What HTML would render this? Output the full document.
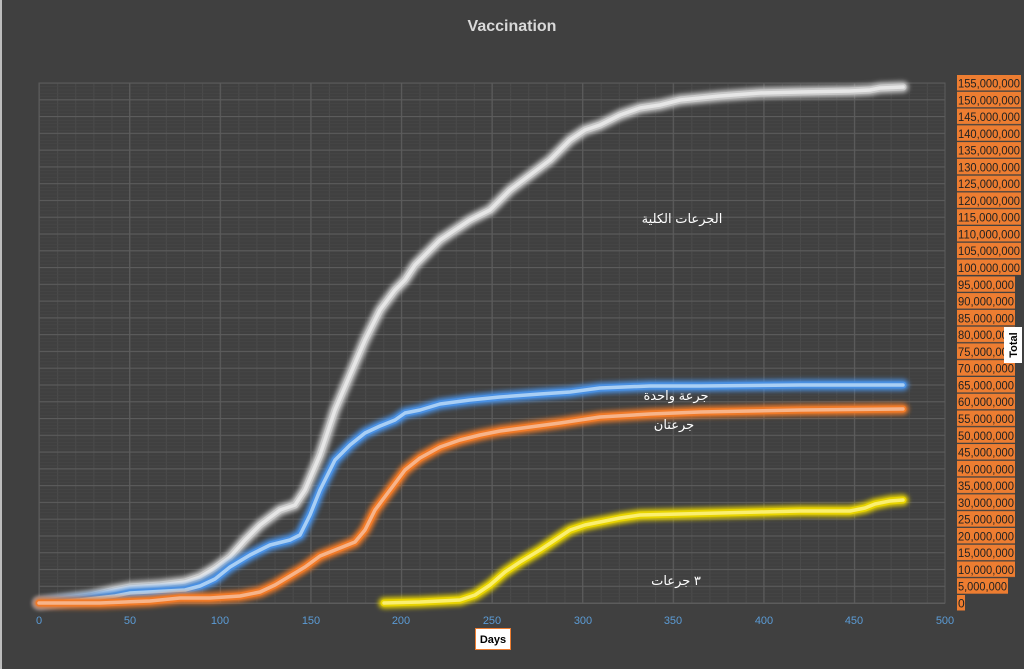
<!DOCTYPE html>
<html><head><meta charset="utf-8"><style>
body{margin:0;background:#404040;}
svg{display:block}
</style></head><body>
<svg width="1024" height="669" xmlns="http://www.w3.org/2000/svg" font-family="Liberation Sans, sans-serif">
<defs>
<filter id="g" x="-10%" y="-10%" width="120%" height="120%"><feGaussianBlur stdDeviation="2.5"/></filter>
<pattern id="minor" patternUnits="userSpaceOnUse" x="39" y="603" width="18.12" height="3.355">
<line x1="0.5" y1="0" x2="0.5" y2="3.355" stroke="#4b4b4b" stroke-width="1"/>
<line x1="0" y1="0.3" x2="18.12" y2="0.3" stroke="#474747" stroke-width="0.6"/>
</pattern>
<pattern id="major" patternUnits="userSpaceOnUse" x="38.5" y="602.5" width="90.6" height="16.775">
<line x1="0.5" y1="0" x2="0.5" y2="16.775" stroke="#5c5c5c" stroke-width="1.2"/>
<line x1="0" y1="0.5" x2="90.6" y2="0.5" stroke="#5c5c5c" stroke-width="1.2"/>
</pattern>
<pattern id="box" patternUnits="userSpaceOnUse" x="957" y="75" width="70" height="16.775">
<rect x="0" y="0" width="70" height="15.5" fill="#ed7d31"/>
</pattern>
</defs>
<rect width="1024" height="669" fill="#404040"/>
<rect x="0" y="0" width="2" height="669" fill="#bdbdbd"/>
<text x="512" y="31" text-anchor="middle" font-size="16" font-weight="bold" fill="#d9d9d9">Vaccination</text>
<rect x="39" y="83" width="906" height="520" fill="url(#minor)"/>
<rect x="38.5" y="82.5" width="907" height="521" fill="url(#major)"/>
<line x1="39" y1="603.5" x2="945" y2="603.5" stroke="#5c5c5c"/>
<line x1="945" y1="83" x2="945" y2="603" stroke="#5c5c5c"/>

<g fill="none" stroke-linejoin="round" stroke-linecap="round">
<g stroke="#c8c8c8"><polyline stroke-width="11" filter="url(#g)" points="39,603 60,600 90,596 115,590 130,587 160,585 185,582 200,577 215,568 230,557 245,540 260,525 280,510 295,505 305,490 320,455 335,410 350,375 365,340 380,310 395,290 405,280 415,265 425,255 440,240 455,230 470,220 490,210 510,190 530,175 550,160 570,140 585,130 600,125 620,115 640,108 660,105 680,100 720,96 760,93 800,92 850,91 870,90 880,88 903,87"/>
<polyline stroke-width="7" points="39,603 60,600 90,596 115,590 130,587 160,585 185,582 200,577 215,568 230,557 245,540 260,525 280,510 295,505 305,490 320,455 335,410 350,375 365,340 380,310 395,290 405,280 415,265 425,255 440,240 455,230 470,220 490,210 510,190 530,175 550,160 570,140 585,130 600,125 620,115 640,108 660,105 680,100 720,96 760,93 800,92 850,91 870,90 880,88 903,87"/>
<polyline stroke="#e6e6e6" stroke-width="3.5" points="39,603 60,600 90,596 115,590 130,587 160,585 185,582 200,577 215,568 230,557 245,540 260,525 280,510 295,505 305,490 320,455 335,410 350,375 365,340 380,310 395,290 405,280 415,265 425,255 440,240 455,230 470,220 490,210 510,190 530,175 550,160 570,140 585,130 600,125 620,115 640,108 660,105 680,100 720,96 760,93 800,92 850,91 870,90 880,88 903,87"/></g>
<g stroke="#4a90e2"><polyline stroke-width="11" filter="url(#g)" points="39,603 80,600 115,596 130,593 185,590 200,586 215,579 230,567 250,555 270,545 290,540 300,535 310,515 320,490 335,460 350,445 365,433 380,426 395,420 405,413 420,410 440,404 470,400 500,397 540,394 570,392 600,388 650,386 700,386 800,385 903,385"/>
<polyline stroke-width="7" points="39,603 80,600 115,596 130,593 185,590 200,586 215,579 230,567 250,555 270,545 290,540 300,535 310,515 320,490 335,460 350,445 365,433 380,426 395,420 405,413 420,410 440,404 470,400 500,397 540,394 570,392 600,388 650,386 700,386 800,385 903,385"/>
<polyline stroke="#a9cff5" stroke-width="3.5" points="39,603 80,600 115,596 130,593 185,590 200,586 215,579 230,567 250,555 270,545 290,540 300,535 310,515 320,490 335,460 350,445 365,433 380,426 395,420 405,413 420,410 440,404 470,400 500,397 540,394 570,392 600,388 650,386 700,386 800,385 903,385"/></g>
<g stroke="#f07a28"><polyline stroke-width="11" filter="url(#g)" points="39,603 100,603 150,601 180,598 210,598 240,596 260,592 275,585 290,576 305,567 320,556 340,548 355,542 365,530 375,510 390,490 405,470 420,458 440,447 460,440 480,435 500,431 530,427 560,423 600,417 650,414 700,412 800,410 903,409"/>
<polyline stroke-width="7" points="39,603 100,603 150,601 180,598 210,598 240,596 260,592 275,585 290,576 305,567 320,556 340,548 355,542 365,530 375,510 390,490 405,470 420,458 440,447 460,440 480,435 500,431 530,427 560,423 600,417 650,414 700,412 800,410 903,409"/>
<polyline stroke="#f7b48a" stroke-width="3.5" points="39,603 100,603 150,601 180,598 210,598 240,596 260,592 275,585 290,576 305,567 320,556 340,548 355,542 365,530 375,510 390,490 405,470 420,458 440,447 460,440 480,435 500,431 530,427 560,423 600,417 650,414 700,412 800,410 903,409"/></g>
<g stroke="#e8d400"><polyline stroke-width="11" filter="url(#g)" points="384,603 420,602 460,600 475,595 490,585 505,572 520,562 540,550 555,540 570,530 585,525 600,522 620,518 640,515 680,514 720,513 760,512 800,511 850,511 865,508 875,504 890,501 903,500"/>
<polyline stroke-width="7" points="384,603 420,602 460,600 475,595 490,585 505,572 520,562 540,550 555,540 570,530 585,525 600,522 620,518 640,515 680,514 720,513 760,512 800,511 850,511 865,508 875,504 890,501 903,500"/>
<polyline stroke="#fbef70" stroke-width="3.5" points="384,603 420,602 460,600 475,595 490,585 505,572 520,562 540,550 555,540 570,530 585,525 600,522 620,518 640,515 680,514 720,513 760,512 800,511 850,511 865,508 875,504 890,501 903,500"/></g>
</g>

<g font-size="11" fill="#5b9bd5" text-anchor="middle">
<text x="39" y="624">0</text><text x="130" y="624">50</text><text x="220" y="624">100</text><text x="311" y="624">150</text><text x="401" y="624">200</text><text x="492" y="624">250</text><text x="583" y="624">300</text><text x="673" y="624">350</text><text x="764" y="624">400</text><text x="854" y="624">450</text><text x="945" y="624">500</text>
</g>
<rect x="475.5" y="628.5" width="35" height="21" fill="#fff" stroke="#ed7d31"/>
<text x="493" y="643" text-anchor="middle" font-size="11" font-weight="bold" fill="#000">Days</text>

<rect x="957" y="75" width="64" height="200" fill="url(#box)"/>
<rect x="957" y="276.3" width="58" height="301" fill="url(#box)"/>
<rect x="957" y="578.2" width="51" height="15.5" fill="#ed7d31"/>
<rect x="957" y="595" width="8" height="15.5" fill="#ed7d31"/>
<g font-size="12" fill="#222">
<text x="958" y="87.5" textLength="62" lengthAdjust="spacingAndGlyphs">155,000,000</text>
<text x="958" y="104.3" textLength="62" lengthAdjust="spacingAndGlyphs">150,000,000</text>
<text x="958" y="121" textLength="62" lengthAdjust="spacingAndGlyphs">145,000,000</text>
<text x="958" y="137.8" textLength="62" lengthAdjust="spacingAndGlyphs">140,000,000</text>
<text x="958" y="154.6" textLength="62" lengthAdjust="spacingAndGlyphs">135,000,000</text>
<text x="958" y="171.4" textLength="62" lengthAdjust="spacingAndGlyphs">130,000,000</text>
<text x="958" y="188.1" textLength="62" lengthAdjust="spacingAndGlyphs">125,000,000</text>
<text x="958" y="204.9" textLength="62" lengthAdjust="spacingAndGlyphs">120,000,000</text>
<text x="958" y="221.7" textLength="62" lengthAdjust="spacingAndGlyphs">115,000,000</text>
<text x="958" y="238.5" textLength="62" lengthAdjust="spacingAndGlyphs">110,000,000</text>
<text x="958" y="255.2" textLength="62" lengthAdjust="spacingAndGlyphs">105,000,000</text>
<text x="958" y="272" textLength="62" lengthAdjust="spacingAndGlyphs">100,000,000</text>
<text x="958" y="288.8" textLength="56" lengthAdjust="spacingAndGlyphs">95,000,000</text>
<text x="958" y="305.6" textLength="56" lengthAdjust="spacingAndGlyphs">90,000,000</text>
<text x="958" y="322.3" textLength="56" lengthAdjust="spacingAndGlyphs">85,000,000</text>
<text x="958" y="339.1" textLength="56" lengthAdjust="spacingAndGlyphs">80,000,000</text>
<text x="958" y="355.9" textLength="56" lengthAdjust="spacingAndGlyphs">75,000,000</text>
<text x="958" y="372.7" textLength="56" lengthAdjust="spacingAndGlyphs">70,000,000</text>
<text x="958" y="389.4" textLength="56" lengthAdjust="spacingAndGlyphs">65,000,000</text>
<text x="958" y="406.2" textLength="56" lengthAdjust="spacingAndGlyphs">60,000,000</text>
<text x="958" y="423" textLength="56" lengthAdjust="spacingAndGlyphs">55,000,000</text>
<text x="958" y="439.8" textLength="56" lengthAdjust="spacingAndGlyphs">50,000,000</text>
<text x="958" y="456.5" textLength="56" lengthAdjust="spacingAndGlyphs">45,000,000</text>
<text x="958" y="473.3" textLength="56" lengthAdjust="spacingAndGlyphs">40,000,000</text>
<text x="958" y="490.1" textLength="56" lengthAdjust="spacingAndGlyphs">35,000,000</text>
<text x="958" y="506.9" textLength="56" lengthAdjust="spacingAndGlyphs">30,000,000</text>
<text x="958" y="523.6" textLength="56" lengthAdjust="spacingAndGlyphs">25,000,000</text>
<text x="958" y="540.4" textLength="56" lengthAdjust="spacingAndGlyphs">20,000,000</text>
<text x="958" y="557.2" textLength="56" lengthAdjust="spacingAndGlyphs">15,000,000</text>
<text x="958" y="574" textLength="56" lengthAdjust="spacingAndGlyphs">10,000,000</text>
<text x="958" y="590.7" textLength="49" lengthAdjust="spacingAndGlyphs">5,000,000</text>
<text x="958" y="607.5">0</text>
</g>
<rect x="1004" y="327" width="18" height="36" fill="#fff"/>
<text transform="translate(1017,345) rotate(-90)" text-anchor="middle" font-size="11" font-weight="bold" fill="#000">Total</text>
<g font-family="Liberation Sans, DejaVu Sans, sans-serif" font-size="13" fill="#fff" text-anchor="middle">
<text x="682" y="223">الجرعات الكلية</text>
<text x="676" y="400">جرعة واحدة</text>
<text x="674" y="429">جرعتان</text>
<text x="676" y="585">٣ جرعات</text>
</g>
</svg>
</body></html>
